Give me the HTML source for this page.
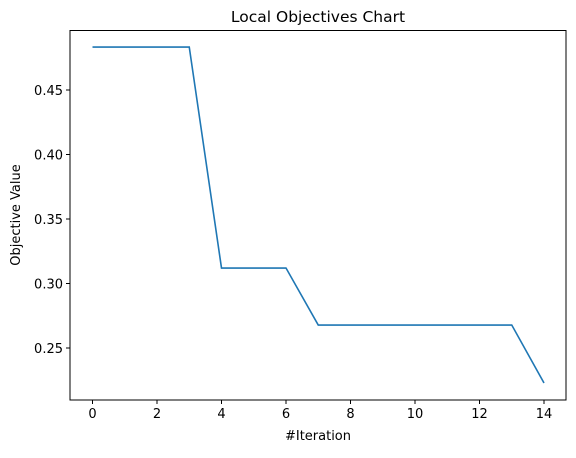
<!DOCTYPE html>
<html><head><style>
body{margin:0;background:#fff;font-family:"Liberation Sans","DejaVu Sans",sans-serif}
text{font-family:"DejaVu Sans","Liberation Sans",sans-serif;font-size:13px;fill:#000}
</style></head><body>
<svg id="c" width="576" height="453">
<text x="318" y="22" text-anchor="middle" font-size="15.5" style="font-size:15.5px">Local Objectives Chart</text>
<g id="ax"></g>
<text x="318" y="440" text-anchor="middle">#Iteration</text>
<text transform="translate(20,215) rotate(-90)" text-anchor="middle">Objective Value</text>
</svg>
<script>
const iterations=[0,1,2,3,4,5,6,7,8,9,10,11,12,13,14];
const objectives=[0.4833,0.4833,0.4833,0.4833,0.312,0.312,0.312,0.2678,0.2678,0.2678,0.2678,0.2678,0.2678,0.2678,0.2229];
const xTicks=[0,2,4,6,8,10,12,14];
const yTicks=[0.25,0.30,0.35,0.40,0.45];
const yLabels=["0.25","0.30","0.35","0.40","0.45"];
const NS="http://www.w3.org/2000/svg";
const L=70,R=566,T=30.5,B=400;
const sx=v=>92.5+v*(544-92.5)/14;
const sy=v=>348-(v-0.25)*(348-90)/0.2;
const g=document.getElementById('ax');
function mk(t,a){const e=document.createElementNS(NS,t);for(const k in a)e.setAttribute(k,a[k]);g.appendChild(e);return e;}
const fr=mk('rect',{x:L,y:T,width:R-L,height:B-T,fill:'none',stroke:'#000','stroke-width':1});


xTicks.forEach(v=>{const x=sx(v);
const tk=mk('line',{x1:x,x2:x,y1:B,y2:B+4,stroke:'#000'});


const t=mk('text',{x:x,y:B+18,'text-anchor':'middle'});t.textContent=v;

});
yTicks.forEach((v,i)=>{const y=sy(v);
const tk=mk('line',{x1:L-4,x2:L,y1:y,y2:y,stroke:'#000'});


const t=mk('text',{x:L-7,y:y+5,'text-anchor':'end'});t.textContent=yLabels[i];

});
const p=mk('polyline',{points:iterations.map((x,i)=>sx(x)+','+sy(objectives[i])).join(' '),fill:'none',stroke:'#1f77b4','stroke-width':1.6});


</script>
</body></html>
